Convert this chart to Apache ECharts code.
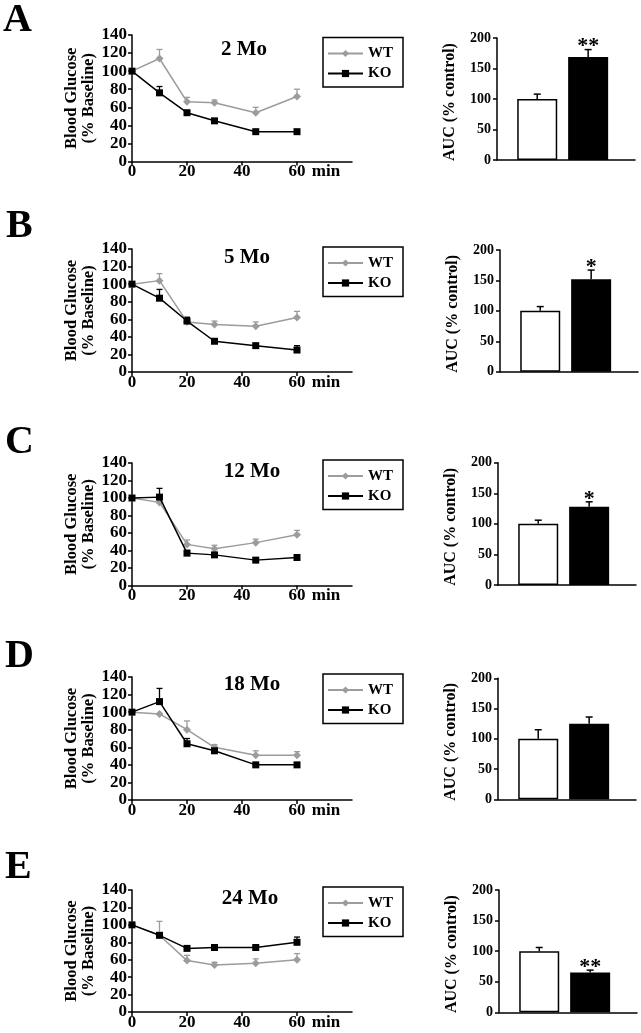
<!DOCTYPE html>
<html>
<head>
<meta charset="utf-8">
<script src="https://cdn.jsdelivr.net/npm/echarts@6/dist/echarts.min.js"></script>
<style>html,body{margin:0;padding:0;background:#fff}#c{width:641px;height:1033px}</style>
</head>
<body>
<div id="c"></div>
<script>
// ---------- DATA ----------
const panelLetters = ['A', 'B', 'C', 'D', 'E'];
const ageLabels = ['2 Mo', '5 Mo', '12 Mo', '18 Mo', '24 Mo'];
const timeMin = [0, 10, 20, 30, 45, 60];
const xTickValues = [0, 20, 40, 60];
const seriesNames = ['WT', 'KO'];

const wtA = [100, 114, 66, 65, 54, 72];
const wtErrA = [0, 10, 5, 3, 6, 8];
const koA = [100, 76, 54, 45, 33, 33];
const koErrA = [0, 7, 2, 2, 1, 1];

const wtB = [100, 104, 57, 54, 52, 62];
const wtErrB = [0, 8, 6, 4, 5, 7];
const koB = [100, 84, 58, 35, 30, 25];
const koErrB = [0, 10, 4, 1, 2, 5];

const wtC = [100, 95, 47, 42, 49, 58];
const wtErrC = [0, 0, 5, 4, 4, 5];
const koC = [100, 101, 37, 35, 29, 32];
const koErrC = [0, 10, 3, 1, 1, 2];

const wtD = [100, 98, 80, 60, 51, 51];
const wtErrD = [0, 0, 10, 3, 5, 4];
const koD = [100, 112, 64, 56, 40, 40];
const koErrD = [0, 15, 6, 2, 1, 1];

const wtE = [100, 88, 59, 54, 56, 60];
const wtErrE = [0, 16, 6, 3, 5, 7];
const koE = [100, 88, 73, 74, 74, 80];
const koErrE = [0, 0, 2, 1, 2, 6];

const aucWT = [100, 100, 100, 100, 100];
const aucWTErr = [8, 7, 6, 15, 6];
const aucKO = [169, 152, 128, 125, 65];
const aucKOErr = [12, 15, 8, 11, 4];
const aucSig = ['**', '*', '*', '', '**'];
const barPos = [1, 2];

const wtAll = [wtA, wtB, wtC, wtD, wtE];
const wtErrAll = [wtErrA, wtErrB, wtErrC, wtErrD, wtErrE];
const koAll = [koA, koB, koC, koD, koE];
const koErrAll = [koErrA, koErrB, koErrC, koErrD, koErrE];

// ---------- LAYOUT ----------
const FONT = "'Liberation Serif', 'Times New Roman', serif";
const lineLeft = 132, lineWidth = 220;
const lineTop = [35, 249, 463, 677, 890];
const lineH = [126.5, 123, 122.5, 123, 122];
const barLeft = [497, 500, 498, 498, 499];
const barTop = [38, 250, 462.7, 678.3, 890];
const barH = [122, 121.7, 122.3, 121, 122.3];
const barW = 138;
const legendTop = [37.5, 247, 460, 674, 887];
const letterTop = [1, 206.5, 423, 636.5, 847.5];
const letterLeft = [3, 6, 5, 5, 5];
const ageTop = [39.5, 247.5, 461, 674.5, 888.5];
const ageCenter = [244, 247, 252, 252, 250];

const WT_COLOR = '#9c9c9c';
const KO_COLOR = '#000000';

const grids = [], xAxes = [], yAxes = [], series = [], titles = [], legends = [];

function errRender(color, capHalf, lw, sig) {
  return function (params, api) {
    const x = api.value(0), y = api.value(1), e = api.value(2);
    const children = [];
    const p0 = api.coord([x, y]);
    const p1 = api.coord([x, y + e]);
    if (e > 0) {
      children.push({type: 'line', shape: {x1: p0[0], y1: p0[1], x2: p1[0], y2: p1[1]}, style: {stroke: color, lineWidth: lw}});
      children.push({type: 'line', shape: {x1: p1[0] - capHalf, y1: p1[1], x2: p1[0] + capHalf, y2: p1[1]}, style: {stroke: color, lineWidth: lw}});
    }
    if (sig && sig[params.dataIndex]) {
      children.push({type: 'text', x: p1[0], y: p1[1] - 3, style: {text: sig[params.dataIndex], fill: '#000', font: 'bold 22px ' + FONT, align: 'center', verticalAlign: 'middle'}});
    }
    return {type: 'group', children: children};
  };
}

const labelStyle = {fontFamily: FONT, fontWeight: 'bold', color: '#000'};

panelLetters.forEach((letter, i) => {
  grids.push({left: lineLeft, top: lineTop[i], width: lineWidth, height: lineH[i], containLabel: false, outerBoundsMode: 'none'});
  titles.push({text: letter, left: letterLeft[i], top: letterTop[i], padding: 0,
    textStyle: {fontFamily: FONT, fontWeight: 'bold', fontSize: 40, color: '#000'}});
  titles.push({text: ageLabels[i], left: ageCenter[i], top: ageTop[i], padding: 0, textAlign: 'center',
    textStyle: {fontFamily: FONT, fontWeight: 'bold', fontSize: 21, color: '#000'}});
  legends.push({
    left: 323, top: legendTop[i], orient: 'vertical', data: seriesNames,
    itemWidth: 35, itemHeight: 9, itemGap: 5, padding: [8.5, 10, 6, 4],
    borderColor: '#000', borderWidth: 1.5, selectedMode: false,
    textStyle: {fontFamily: FONT, fontWeight: 'bold', fontSize: 15, color: '#000'}
  });
});
panelLetters.forEach((letter, i) => {
  grids.push({left: barLeft[i], top: barTop[i], width: barW, height: barH[i], containLabel: false, outerBoundsMode: 'none'});
});

const axisLineStyle = {show: true, lineStyle: {color: '#000', width: 1.5}};
const tickStyle = {show: true, length: 4, lineStyle: {color: '#000', width: 1.5}};

panelLetters.forEach((letter, i) => {
  xAxes.push({
    gridIndex: i, type: 'value', min: 0, max: 80, interval: 20,
    axisLine: axisLineStyle,
    axisTick: Object.assign({customValues: xTickValues}, tickStyle),
    splitLine: {show: false},
    axisLabel: Object.assign({customValues: xTickValues, fontSize: 17, margin: 2,
      formatter: v => (xTickValues.indexOf(v) >= 0 ? String(v) : '')}, labelStyle),
    name: 'min', nameLocation: 'end', nameGap: -26,
    nameTextStyle: Object.assign({fontSize: 17, align: 'center', verticalAlign: 'top', padding: [2, 0, 0, 0]}, labelStyle)
  });
  yAxes.push({
    gridIndex: i, type: 'value', min: 0, max: 140, interval: 20,
    axisLine: axisLineStyle, axisTick: tickStyle, splitLine: {show: false},
    axisLabel: Object.assign({fontSize: 17, margin: 5}, labelStyle),
    name: 'Blood Glucose\n(% Baseline)', nameLocation: 'middle', nameRotate: 90, nameGap: 35,
    nameTextStyle: Object.assign({fontSize: 16.5, lineHeight: 17}, labelStyle)
  });
});
panelLetters.forEach((letter, i) => {
  xAxes.push({
    gridIndex: 5 + i, type: 'value', min: 0.21, max: 2.92,
    axisLine: axisLineStyle, axisTick: {show: false}, axisLabel: {show: false}, splitLine: {show: false}
  });
  yAxes.push({
    gridIndex: 5 + i, type: 'value', min: 0, max: 200, interval: 50,
    axisLine: axisLineStyle, axisTick: tickStyle, splitLine: {show: false},
    axisLabel: Object.assign({fontSize: 14, margin: 6}, labelStyle),
    name: 'AUC (% control)', nameLocation: 'middle', nameRotate: 90, nameGap: 39,
    nameTextStyle: Object.assign({fontSize: 16, padding: [0, 6, 0, 0]}, labelStyle)
  });
});

panelLetters.forEach((letter, i) => {
  const wt = wtAll[i], ko = koAll[i];
  series.push({
    name: 'WT', type: 'line', xAxisIndex: i, yAxisIndex: i, z: 4,
    data: timeMin.map((t, k) => [t, wt[k]]),
    symbol: 'diamond', symbolSize: 8, showAllSymbol: true,
    lineStyle: {color: WT_COLOR, width: 1.5}, itemStyle: {color: WT_COLOR}, animation: false
  });
  series.push({
    name: 'KO', type: 'line', xAxisIndex: i, yAxisIndex: i, z: 5,
    data: timeMin.map((t, k) => [t, ko[k]]),
    symbol: 'rect', symbolSize: 7, showAllSymbol: true,
    lineStyle: {color: KO_COLOR, width: 1.5}, itemStyle: {color: KO_COLOR}, animation: false
  });
  series.push({
    name: 'WT err ' + letter, type: 'custom', xAxisIndex: i, yAxisIndex: i, z: 3,
    data: timeMin.map((t, k) => [t, wt[k], wtErrAll[i][k]]),
    renderItem: errRender(WT_COLOR, 3, 1.3), animation: false, silent: true
  });
  series.push({
    name: 'KO err ' + letter, type: 'custom', xAxisIndex: i, yAxisIndex: i, z: 3,
    data: timeMin.map((t, k) => [t, ko[k], koErrAll[i][k]]),
    renderItem: errRender(KO_COLOR, 3, 1.3), animation: false, silent: true
  });
  series.push({
    name: 'AUC ' + letter, type: 'bar', xAxisIndex: 5 + i, yAxisIndex: 5 + i, barWidth: 40,
    data: [
      {value: [barPos[0], aucWT[i]], itemStyle: {color: '#ffffff'}},
      {value: [barPos[1], aucKO[i]], itemStyle: {color: '#000000'}}
    ],
    itemStyle: {borderColor: '#000', borderWidth: 1.5}, animation: false
  });
  series.push({
    name: 'AUC err ' + letter, type: 'custom', xAxisIndex: 5 + i, yAxisIndex: 5 + i, z: 3,
    data: [[barPos[0], aucWT[i], aucWTErr[i]], [barPos[1], aucKO[i], aucKOErr[i]]],
    renderItem: errRender('#000', 3.5, 1.5, ['', aucSig[i]]), animation: false, silent: true
  });
});

const chart = echarts.init(document.getElementById('c'), null, {renderer: 'canvas'});
chart.setOption({
  backgroundColor: '#ffffff',
  animation: false,
  title: titles,
  legend: legends,
  grid: grids,
  xAxis: xAxes,
  yAxis: yAxes,
  series: series
});
</script>
</body>
</html>
